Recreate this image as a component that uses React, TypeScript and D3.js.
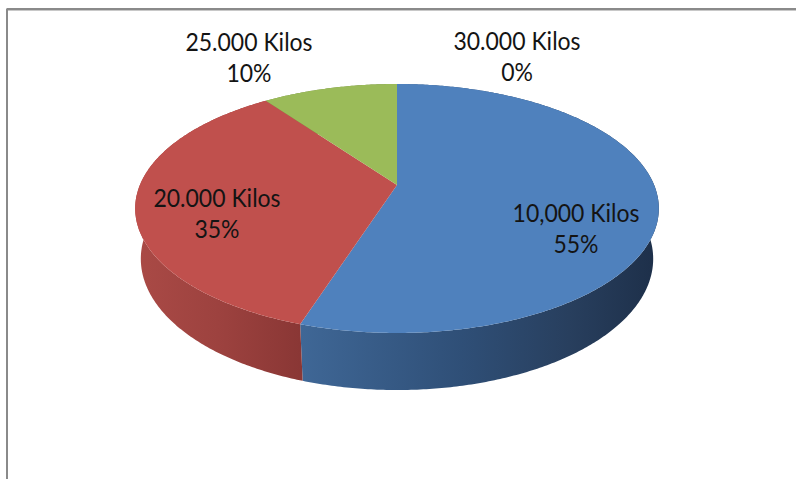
import React from "react";
import * as d3 from "d3";

// ---- data ----
const categories = ["10,000 Kilos", "20.000 Kilos", "25.000 Kilos", "30.000 Kilos"];
const percentValues = [55, 35, 10, 0];
const percentLabels = ["55%", "35%", "10%", "0%"];

// ---- styles / layout ----
const topColors = ["#4F81BD", "#C0504D", "#9BBB59", "#8064A2"];
const wallStops = [
  [["0", "#3f6796"], ["0.45", "#2f4f77"], ["0.75", "#283f5e"], ["1", "#1d2f49"]],
  [["0", "#aa4a46"], ["0.5", "#9d423f"], ["1", "#8a3735"]],
  [["0", "#7d9848"], ["1", "#64793a"]],
  [["0", "#6a5288"], ["1", "#52406a"]],
];
// label anchor (center x, first baseline y)
const labelAnchors: [number, number][] = [
  [576, 222],
  [217, 207],
  [249, 51],
  [517, 50],
];

const W = 796;
const H = 479;
const CX = 397;
const CY = 185;
const F = 1232;
const SX = 0.983;
const DIST = 4.71;
const SIN_A = 0.459;
const COS_A = Math.sqrt(1 - SIN_A * SIN_A);
const DEPTH = 0.218;

function project(x: number, y: number, z: number): [number, number] {
  const Yc = y * COS_A - z * SIN_A;
  const Zc = DIST - (z * COS_A + y * SIN_A);
  return [CX + (SX * F * x) / Zc, CY - (F * Yc) / Zc];
}
function rim(theta: number, y: number): [number, number] {
  return project(Math.sin(theta), y, -Math.cos(theta));
}
function samples(a0: number, a1: number): number[] {
  const n = Math.max(2, Math.ceil(Math.abs(a1 - a0) / 0.01));
  return d3.range(n + 1).map((i) => a0 + ((a1 - a0) * i) / n);
}

export default function App() {
  const pie = d3
    .pie<number>()
    .sort(null)
    .value((d) => d)
    .startAngle(0)
    .endAngle(2 * Math.PI);
  const arcs = pie(percentValues);
  const line = d3.line<[number, number]>();

  const walls = arcs
    .map((a, i) => {
      if (a.endAngle - a.startAngle <= 0) return null;
      const top = samples(a.startAngle, a.endAngle).map((t) => rim(t, 0));
      const bot = samples(a.endAngle, a.startAngle).map((t) => rim(t, -DEPTH));
      return { i, d: line([...top, ...bot]) + "Z" };
    })
    .filter(Boolean) as { i: number; d: string }[];

  const tops = arcs
    .map((a, i) => {
      if (a.endAngle - a.startAngle <= 0) return null;
      const c = project(0, 0, 0);
      const pts = [c, ...samples(a.startAngle, a.endAngle).map((t) => rim(t, 0))];
      return { i, d: line(pts) + "Z" };
    })
    .filter(Boolean) as { i: number; d: string }[];

  // visible front wall extents for gradients (front half only)
  const frontX = (a: d3.PieArcDatum<number>): [number, number] => {
    const lo = Math.max(a.startAngle, Math.PI / 2);
    const hi = Math.min(a.endAngle, (3 * Math.PI) / 2);
    if (hi <= lo) return [0, W];
    const xs = samples(lo, hi).map((t) => rim(t, 0)[0]);
    return [d3.min(xs) as number, d3.max(xs) as number];
  };

  return (
    <svg
      width={W}
      height={H}
      style={{ position: "absolute", left: 0, top: 0, background: "#fff" }}
    >
      <defs>
        {arcs.map((a, i) => {
          const [x0, x1] = frontX(a);
          return (
            <linearGradient
              key={i}
              id={`wall${i}`}
              gradientUnits="userSpaceOnUse"
              x1={Math.min(x0, x1)}
              x2={Math.max(x0, x1)}
              y1={0}
              y2={0}
            >
              {wallStops[i].map(([o, c], k) => (
                <stop key={k} offset={o} stopColor={c} />
              ))}
            </linearGradient>
          );
        })}
      </defs>
      <rect x={0} y={0} width={W} height={H} fill="#ffffff" />
      {/* chart frame */}
      <line x1={6.5} y1={9} x2={W} y2={9} stroke="#8a8a8a" strokeWidth={2} />
      <line x1={7} y1={9} x2={7} y2={H} stroke="#8a8a8a" strokeWidth={2} />
      <line x1={8} y1={10.5} x2={W} y2={10.5} stroke="#c8c8c8" strokeWidth={1} />

      {walls.map((w) => (
        <path key={`w${w.i}`} d={w.d} fill={`url(#wall${w.i})`} />
      ))}
      {tops.map((t) => (
        <path key={`t${t.i}`} d={t.d} fill={topColors[t.i]} />
      ))}

      {categories.map((c, i) => (
        <g
          key={`l${i}`}
          transform={`translate(${labelAnchors[i][0]},${labelAnchors[i][1]}) scale(1,1.07)`}
        >
          <text
            x={0}
            y={0}
            textAnchor="middle"
            fontFamily="Lato, 'Open Sans', sans-serif"
            fontSize={23}
            fill="#141414"
          >
            <tspan x={0}>{c}</tspan>
            <tspan x={0} dy={29}>
              {percentLabels[i]}
            </tspan>
          </text>
        </g>
      ))}
    </svg>
  );
}
